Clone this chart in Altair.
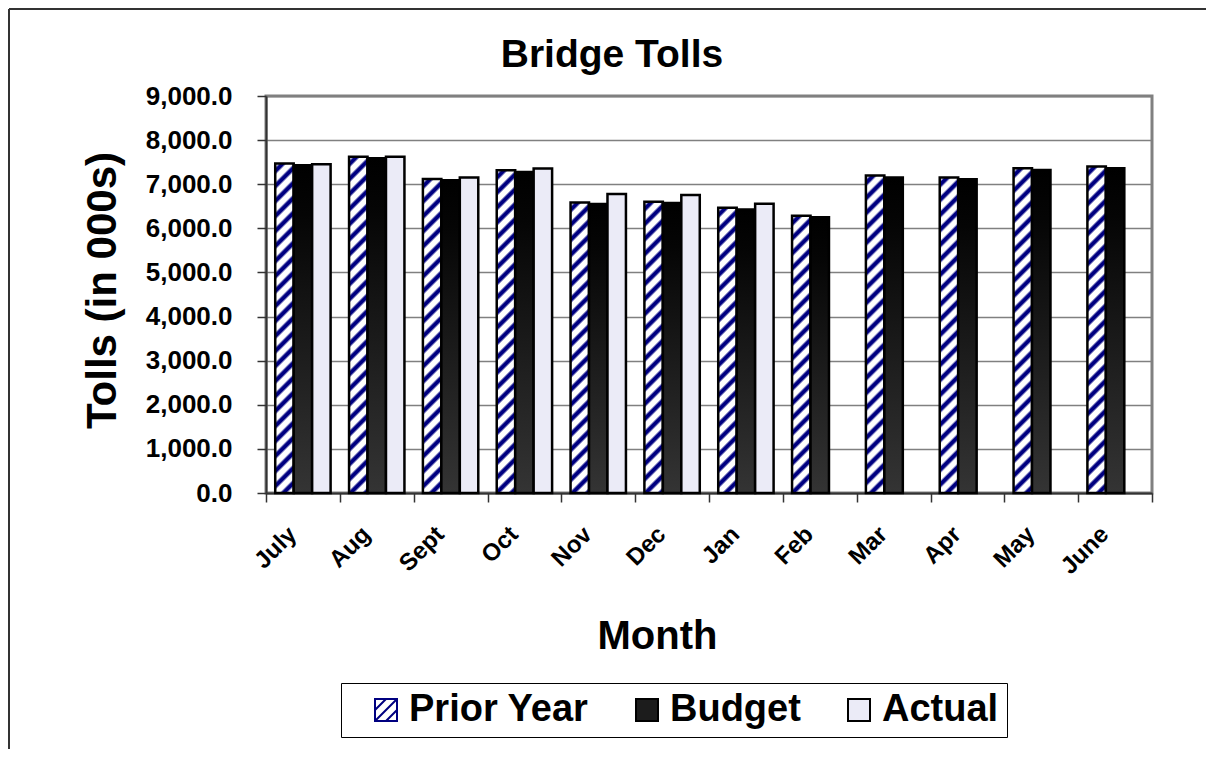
import altair as alt
import pandas as pd

FONT = "Liberation Sans"

months = ["July", "Aug", "Sept", "Oct", "Nov", "Dec", "Jan", "Feb", "Mar", "Apr", "May", "June"]
series = ["Prior Year", "Budget", "Actual"]
prior_year = [7468, 7620, 7119, 7317, 6588, 6603, 6466, 6284, 7195, 7150, 7362, 7400]
budget = [7430, 7590, 7089, 7279, 6550, 6573, 6428, 6254, 7150, 7112, 7324, 7362]
actual = [7453, 7620, 7150, 7355, 6778, 6755, 6557, None, None, None, None, None]
y_ticks = [0, 1000, 2000, 3000, 4000, 5000, 6000, 7000, 8000, 9000]
Y_MAX = 9000
chart_title = "Bridge Tolls"

W, H = 886, 397

rows = []
for i, m in enumerate(months):
    for s, vals in zip(series, [prior_year, budget, actual]):
        v = vals[i]
        if v is not None:
            rows.append({"month": m, "series": s, "value": v})
df = pd.DataFrame(rows)


def stripe_gradient(value):
    """Diagonal navy/white stripes as a many-stop linear gradient (bbox units)."""
    h = value / Y_MAX * H
    w = W / len(months) / 4
    r = w / h
    s = (1 + r) / (1 + r * r)
    L = w + h
    P = 15.0
    pattern = [(0.0, "#ffffff"), (0.20, "#ffffff"), (0.38, "#000080"),
               (0.62, "#000080"), (0.80, "#ffffff")]
    stops = []
    k = 0
    while k * P < L:
        for f, c in pattern:
            off = (k * P + f * P) / L
            if off <= 1:
                stops.append({"offset": round(off, 5), "color": c})
        k += 1
    stops.append({"offset": 1, "color": stops[-1]["color"]})
    return {"gradient": "linear", "x1": 0, "y1": 0, "x2": s * r, "y2": s, "stops": stops}


budget_grad = {"gradient": "linear", "x1": 0, "y1": 0, "x2": 0, "y2": 1,
               "stops": [{"offset": 0, "color": "#000000"},
                         {"offset": 0.15, "color": "#050505"},
                         {"offset": 1, "color": "#343434"}]}

x_axis = alt.Axis(
    labelAngle=-45, labelFont=FONT, labelFontSize=24, labelFontWeight="bold", labelColor="black",
    labelPadding=20, labelOffset=-19, tickBand="extent", tickSize=9, tickColor="#333333",
    tickWidth=1.5, domainColor="#333333", domainWidth=2, grid=False,
    titleFont=FONT, titleFontSize=40, titleFontWeight="bold", titleColor="black",
    titleX=391, titleY=155, titleBaseline="alphabetic", titleAlign="center",
)
y_axis = alt.Axis(
    values=y_ticks, format=",.1f", labelFont=FONT, labelFontSize=26, labelFontWeight="bold",
    labelColor="black", labelPadding=25, tickSize=9, tickColor="#333333", tickWidth=1.5,
    domainColor="#333333", domainWidth=2, gridColor="#808080", gridWidth=1.5,
    titleFont=FONT, titleFontSize=42, titleFontWeight="bold", titleColor="black",
    titleX=-151, titleY=194, titleBaseline="alphabetic", titleAlign="center", titleAngle=-90,
)

x_enc = alt.X("month:N", title="Month",
              scale=alt.Scale(domain=months, paddingInner=0, paddingOuter=0), axis=x_axis)
xo_enc = alt.XOffset("series:N",
                     scale=alt.Scale(domain=series, paddingInner=0, paddingOuter=0.5))
y_enc = alt.Y("value:Q", title="Tolls (in 000s)",
              scale=alt.Scale(domain=[0, Y_MAX], nice=False), axis=y_axis)

base = alt.Chart(df).encode(x=x_enc, xOffset=xo_enc, y=y_enc)

stripe_path = "M-1,-1L1,-1L1,1L-1,1Z M-1,0L0,-1 M-1,1L1,-1 M0,1L1,0"
legend = alt.Legend(
    orient="none", legendX=75, legendY=587, direction="horizontal", columns=3, title=None,
    labelFont=FONT, labelFontSize=38, labelFontWeight="bold", labelColor="black", labelLimit=500,
    symbolSize=484, symbolStrokeWidth=2, symbolOpacity=1, symbolOffset=18, labelOffset=4,
    columnPadding=21, padding=8, strokeColor="black", fillColor="white",
)

legend_layer = base.mark_point(filled=True, opacity=0, size=20).encode(
    fill=alt.Fill("series:N", scale=alt.Scale(domain=series, range=["#ffffff", "#1c1c1c", "#ebebf7"]), legend=legend),
    stroke=alt.Stroke("series:N", scale=alt.Scale(domain=series, range=["#000080", "#000000", "#000000"]), legend=legend),
    shape=alt.Shape("series:N", scale=alt.Scale(domain=series, range=[stripe_path, "square", "square"]), legend=legend),
)

layers = [legend_layer]
for i, m in enumerate(months):
    layers.append(
        base.transform_filter((alt.datum.month == m) & (alt.datum.series == "Prior Year"))
        .mark_bar(fill=stripe_gradient(prior_year[i]), stroke="black", strokeWidth=2.5)
    )
layers.append(
    base.transform_filter(alt.datum.series == "Budget")
    .mark_bar(fill=budget_grad, stroke="black", strokeWidth=2.5)
)
layers.append(
    base.transform_filter(alt.datum.series == "Actual")
    .mark_bar(fill="#ebebf7", stroke="black", strokeWidth=2.5)
)

frame_df = pd.DataFrame({"k": [0]})
frame_top = alt.Chart(frame_df).mark_rule(color="#333333", strokeWidth=2).encode(
    x=alt.value(-257), x2=alt.value(W + 54), y=alt.value(-87), y2=alt.value(-87))
frame_left = alt.Chart(frame_df).mark_rule(color="#333333", strokeWidth=2).encode(
    x=alt.value(-257), x2=alt.value(-257), y=alt.value(-87), y2=alt.value(H + 256))
title_mark = alt.Chart(frame_df).mark_text(
    text=chart_title, font=FONT, fontSize=39, fontWeight="bold", color="black",
    align="center", baseline="alphabetic",
).encode(x=alt.value(346), y=alt.value(-29))
layers += [frame_top, frame_left, title_mark]

chart = alt.layer(*layers).properties(
    width=W, height=H,
    autosize=alt.AutoSizeParams(type="none"),
    padding={"left": 258, "top": 88, "right": 54, "bottom": 256},
).configure_view(stroke="#808080", strokeWidth=3)

chart.save("out.html", embed_options={"renderer": "svg", "actions": False})
